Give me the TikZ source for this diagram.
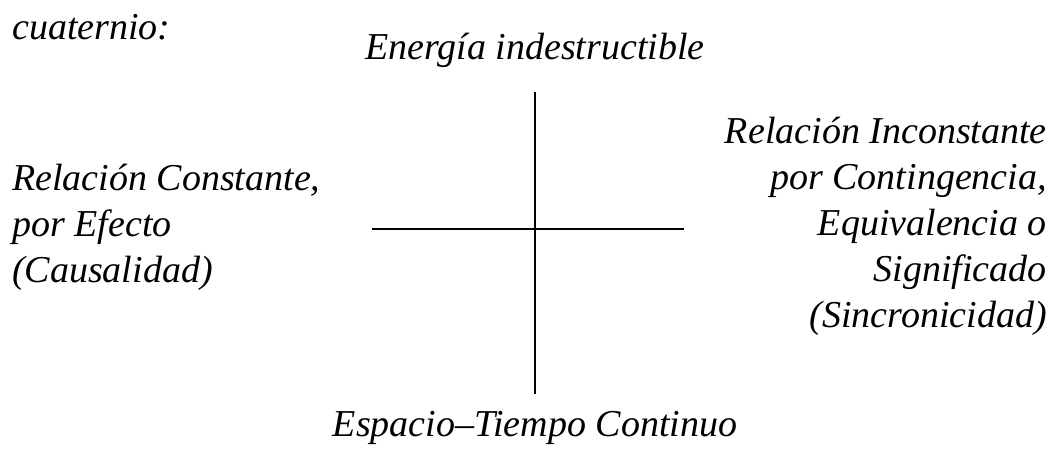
\documentclass[tikz,border=0pt]{standalone}
\usepackage{fontspec}
\setmainfont{Liberation Serif}
\begin{document}
\begin{tikzpicture}[x=1pt,y=-1pt,
  lbl/.style={inner sep=0pt,font=\fontsize{38}{46}\selectfont\itshape},
  axis/.style={line width=2.2pt,black}]
\useasboundingbox (0,0) rectangle (1058,448);
\node[lbl,anchor=base west] (cuat) at (12,39) {cuaternio:};
\node[lbl,anchor=base] (top) at (535,59) {Energía indestructible};
\node[lbl,anchor=base west] (l1) at (12,190) {Relación Constante,};
\node[lbl,anchor=base west] (l2) at (12,236) {por Efecto};
\node[lbl,anchor=base west] (l3) at (12,282) {(Causalidad)};
\node[lbl,anchor=base east] (r1) at (1047,143) {Relación Inconstante};
\node[lbl,anchor=base east] (r2) at (1047,189) {por Contingencia,};
\node[lbl,anchor=base east] (r3) at (1047,235) {Equivalencia o};
\node[lbl,anchor=base east] (r4) at (1047,281) {Significado};
\node[lbl,anchor=base east] (r5) at (1047,327) {(Sincronicidad)};
\node[lbl,anchor=base] (bot) at (535,436) {Espacio–Tiempo Continuo};
\coordinate (vt) at (535,92);
\coordinate (vb) at (535,394);
\coordinate (hl) at (372,229);
\coordinate (hr) at (684,229);
\draw[axis] (vt) -- (vb);
\draw[axis] (hl) -- (hr);
\end{tikzpicture}
\end{document}
